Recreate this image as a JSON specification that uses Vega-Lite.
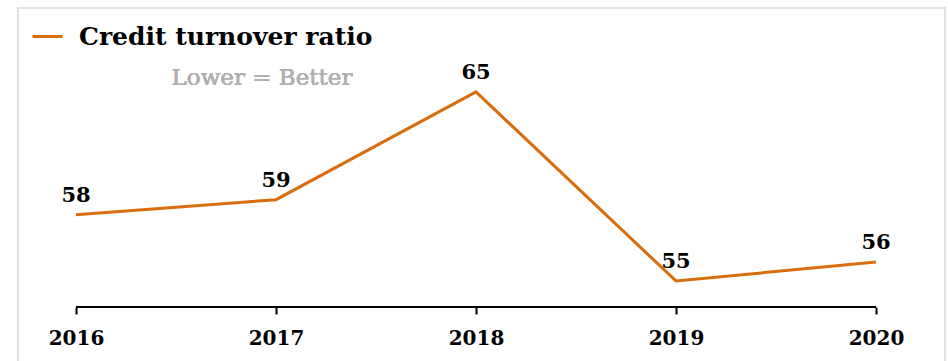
{
  "$schema": "https://vega.github.io/schema/vega-lite/v6.json",
  "autosize": {"type": "none"},
  "width": 927,
  "height": 355,
  "padding": {"left": 18, "top": 8, "right": 3, "bottom": 0},
  "background": "white",
  "config": {
    "view": {"stroke": "#e3e3e3", "strokeWidth": 2},
    "font": "DejaVu Serif"
  },
  "data": {
    "values": [
      {"year": 2016, "value": 58.5, "label": "58", "series": "Credit turnover ratio"},
      {"year": 2017, "value": 59.3, "label": "59", "series": "Credit turnover ratio"},
      {"year": 2018, "value": 65.0, "label": "65", "series": "Credit turnover ratio"},
      {"year": 2019, "value": 55.0, "label": "55", "series": "Credit turnover ratio"},
      {"year": 2020, "value": 56.0, "label": "56", "series": "Credit turnover ratio"}
    ]
  },
  "layer": [
    {
      "mark": {"type": "line", "strokeWidth": 3},
      "encoding": {
        "x": {
          "field": "year",
          "type": "quantitative",
          "scale": {"domain": [2015.71, 2020.345], "nice": false, "zero": false},
          "axis": {
            "title": null,
            "values": [2016, 2017, 2018, 2019, 2020],
            "format": "d",
            "domain": false,
            "grid": false,
            "offset": -56,
            "tickColor": "black",
            "tickWidth": 2,
            "tickSize": 7,
            "labelFont": "DejaVu Serif",
            "labelFontWeight": "bold",
            "labelFontSize": 20,
            "labelColor": "black",
            "labelPadding": 14
          }
        },
        "y": {
          "field": "value",
          "type": "quantitative",
          "scale": {"domain": [50.66, 69.44], "nice": false, "zero": false},
          "axis": null
        },
        "color": {
          "field": "series",
          "type": "nominal",
          "scale": {"range": ["#D96D0B"]},
          "legend": {
            "title": null,
            "orient": "none",
            "legendX": 13,
            "legendY": 12,
            "symbolType": "stroke",
            "symbolSize": 900,
            "symbolStrokeWidth": 3,
            "labelFont": "DejaVu Serif",
            "labelFontWeight": "bold",
            "labelFontSize": 25,
            "labelColor": "black",
            "labelOffset": 15,
            "labelLimit": 500
          }
        }
      }
    },
    {
      "mark": {"type": "text", "fontWeight": "bold", "fontSize": 21, "color": "black", "baseline": "middle", "dy": -19},
      "encoding": {
        "x": {"field": "year", "type": "quantitative"},
        "y": {"field": "value", "type": "quantitative"},
        "text": {"field": "label"}
      }
    },
    {
      "mark": {"type": "rule", "color": "black", "strokeWidth": 2},
      "encoding": {
        "x": {"aggregate": "min", "field": "year", "type": "quantitative"},
        "x2": {"aggregate": "max", "field": "year"},
        "y": {"datum": 53.62, "type": "quantitative"}
      }
    },
    {
      "mark": {"type": "text", "fontSize": 23, "color": "#b0b0b0", "baseline": "middle", "align": "center"},
      "encoding": {
        "x": {"datum": 2016.93, "type": "quantitative"},
        "y": {"datum": 65.74, "type": "quantitative"},
        "text": {"value": "Lower = Better"}
      }
    }
  ]
}
